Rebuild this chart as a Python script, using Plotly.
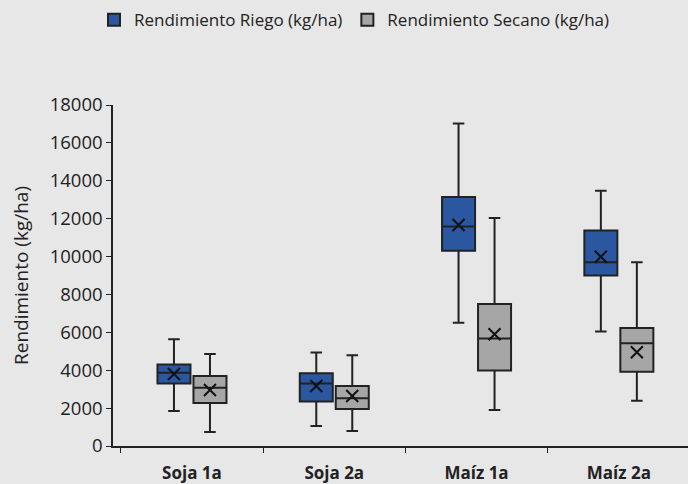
import plotly.graph_objects as go

categories = ["Soja 1a", "Soja 2a", "Maíz 1a", "Maíz 2a"]

riego_low = [1850, 1050, 6500, 6050]
riego_q1 = [3300, 2350, 10300, 9000]
riego_med = [3870, 3300, 11580, 9700]
riego_q3 = [4300, 3840, 13140, 11380]
riego_high = [5630, 4930, 17030, 13480]
riego_mean = [3800, 3170, 11670, 9990]

secano_low = [740, 790, 1900, 2390]
secano_q1 = [2270, 1950, 3980, 3920]
secano_med = [3080, 2520, 5670, 5420]
secano_q3 = [3700, 3170, 7500, 6230]
secano_high = [4860, 4790, 12030, 9700]
secano_mean = [2960, 2640, 5900, 4950]

y_ticks = [0, 2000, 4000, 6000, 8000, 10000, 12000, 14000, 16000, 18000]
y_ticktext = ["0", "2000", "4000", "6000", "8000", "10000", "12000", "14000", "16000", "18000"]

BLUE = "#2A579F"
GRAY = "#A6A6A6"
EDGE = "#222222"
BG = "#E7E7E7"
FONT = "Open Sans"

fig = go.Figure()

series = [
    ("Rendimiento Riego (kg/ha)", "r", BLUE, riego_low, riego_q1, riego_med, riego_q3, riego_high, riego_mean),
    ("Rendimiento Secano (kg/ha)", "s", GRAY, secano_low, secano_q1, secano_med, secano_q3, secano_high, secano_mean),
]

for name, grp, color, lo, q1, med, q3, hi, mean in series:
    fig.add_trace(go.Box(
        name=name,
        x=categories,
        lowerfence=lo, q1=q1, median=med, q3=q3, upperfence=hi,
        fillcolor=color,
        line=dict(color=EDGE, width=2),
        whiskerwidth=0.35,
        offsetgroup=grp,
        boxpoints=False,
        showlegend=True,
    ))

for name, grp, color, lo, q1, med, q3, hi, mean in series:
    fig.add_trace(go.Scatter(
        x=categories,
        y=mean,
        mode="markers",
        marker=dict(symbol="x-thin", size=12, line=dict(color="#111111", width=2)),
        offsetgroup=grp,
        orientation="v",
        showlegend=False,
        hoverinfo="skip",
    ))

fig.update_layout(
    width=688, height=484,
    paper_bgcolor=BG, plot_bgcolor=BG,
    margin=dict(l=113, r=0, t=105, b=38, autoexpand=False),
    boxmode="group", boxgap=0.494, boxgroupgap=0.083,
    scattermode="group", scattergap=0.494,
    font=dict(family=FONT, color="#222222"),
    legend=dict(
        orientation="h", x=0.42, xanchor="center", y=1.249, yanchor="middle",
        font=dict(size=17, family=FONT, color="#222222"),
        bgcolor="rgba(0,0,0,0)",
    ),
    xaxis=dict(
        type="category",
        categoryorder="array", categoryarray=categories,
        range=[-0.555, 3.486],
        showline=True, linecolor=EDGE, linewidth=1.5,
        ticks="outside", tickson="boundaries", ticklen=5, tickcolor=EDGE,
        tickfont=dict(size=17, family=FONT, color="#222222", weight="bold"),
        ticklabelstandoff=11,
        showgrid=False, zeroline=False,
    ),
    yaxis=dict(
        range=[0, 18000],
        tickvals=y_ticks, ticktext=y_ticktext,
        showline=True, linecolor=EDGE, linewidth=1.5,
        ticks="outside", ticklen=5, tickcolor=EDGE,
        tickfont=dict(size=18.5, family=FONT, color="#222222"),
        showgrid=False, zeroline=False,
        title=dict(text="Rendimiento (kg/ha)", font=dict(size=19, family=FONT, color="#222222"), standoff=16),
    ),
)

fig.write_html(
    "out.html",
    config={"displayModeBar": False},
    post_script="document.body.style.margin='0';document.body.style.background='#E7E7E7';document.body.style.overflow='hidden';",
)
